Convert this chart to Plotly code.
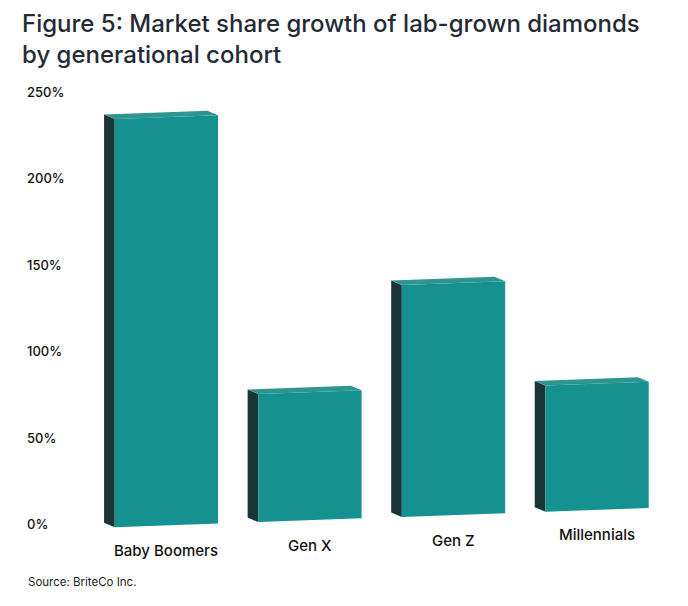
import plotly.graph_objects as go

categories = ["Baby Boomers", "Gen X", "Gen Z", "Millennials"]
growth_pct = [236, 74, 134, 73]
tick_values = [0, 50, 100, 150, 200, 250]
tick_labels = ["0%", "50%", "100%", "150%", "200%", "250%"]

TITLE = "Figure 5: Market share growth of lab-grown diamonds<br>by generational cohort"
SOURCE = "Source: BriteCo Inc."

FRONT = "#15928f"
SIDE = "#1b3536"
TOP = "#2e9591"
FONT = "Inter"

# pseudo-3D styling (in axis units)
half_w = 0.36
depth_dx, depth_dy = -0.074, 2.6
skew0, skew_k = -0.6, 3.0

# figure geometry (page body has an 8px margin)
W, H = 672, 590
ML, MR, MT, MB = 22, 4, 63, 39
PW, PH = W - ML - MR, H - MT - MB


def base(x):
    return skew0 + skew_k * x


def px_x(px):
    return (px - 8 - ML) / PW


def px_y(py):
    return (H - MB - (py - 8)) / PH


fig = go.Figure()

for i, (cat, v) in enumerate(zip(categories, growth_pct)):
    x0, x1 = i - half_w, i + half_w
    b0, b1 = base(x0), base(x1)
    # side face
    fig.add_trace(go.Scatter(
        x=[x0, x0 + depth_dx, x0 + depth_dx, x0, x0],
        y=[b0, b0 + depth_dy, b0 + depth_dy + v, b0 + v, b0],
        fill="toself", fillcolor=SIDE, mode="lines", line=dict(width=0, color=SIDE),
        hoverinfo="skip", showlegend=False))
    # top face
    fig.add_trace(go.Scatter(
        x=[x0, x1, x1 + depth_dx, x0 + depth_dx, x0],
        y=[b0 + v, b1 + v, b1 + v + depth_dy, b0 + v + depth_dy, b0 + v],
        fill="toself", fillcolor=TOP, mode="lines", line=dict(width=0, color=TOP),
        hoverinfo="skip", showlegend=False))
    # front face
    fig.add_trace(go.Scatter(
        x=[x0, x1, x1, x0, x0],
        y=[b0, b1, b1 + v, b0 + v, b0],
        fill="toself", fillcolor=FRONT, mode="lines", line=dict(width=0, color=FRONT),
        name=cat, text=f"{cat}: {v}%", hoveron="fills", hoverinfo="text", showlegend=False))
    # category label
    fig.add_annotation(x=i, y=base(i) - 14.5, xref="x", yref="y", text=cat,
                       showarrow=False, xanchor="center", yanchor="middle",
                       font=dict(family=FONT, size=15, weight=500, color="#111111"))

for tv, tl in zip(tick_values, tick_labels):
    fig.add_annotation(x=px_x(25), y=tv, xref="paper", yref="y", text=tl,
                       showarrow=False, xanchor="left", yanchor="middle",
                       font=dict(family=FONT, size=13, weight=500, color="#111111"))

fig.add_annotation(x=px_x(26), y=px_y(582), xref="paper", yref="paper", text=SOURCE,
                   showarrow=False, xanchor="left", yanchor="middle",
                   font=dict(family=FONT, size=11.5, color="#222222"))

fig.add_annotation(x=px_x(20), y=px_y(39), xref="paper", yref="paper", text=TITLE,
                   showarrow=False, xanchor="left", yanchor="middle", align="left",
                   font=dict(family=FONT, size=24, weight=500, color="#252a36"))

fig.update_layout(
    width=W, height=H,
    margin=dict(l=ML, r=MR, t=MT, b=MB),
    paper_bgcolor="white", plot_bgcolor="white",
    xaxis=dict(range=[-0.95, 3.55], visible=False, fixedrange=True),
    yaxis=dict(range=[-20, 262], visible=False, fixedrange=True),
    showlegend=False,
)

fig.write_html("out.html")
